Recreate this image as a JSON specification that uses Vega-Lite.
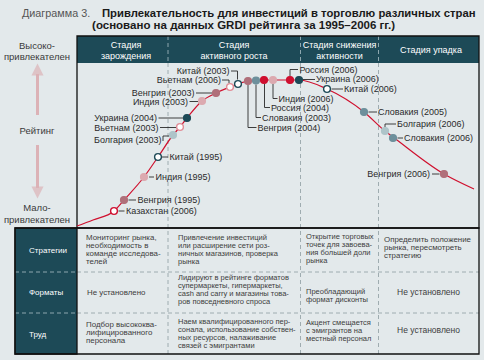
{
  "$schema": "https://vega.github.io/schema/vega-lite/v6.json",
  "width": 484,
  "height": 360,
  "autosize": {"type": "fit", "contains": "padding"},
  "padding": 0,
  "background": "#e3e9eb",
  "config": {"view": {"stroke": null}, "text": {"font": "Liberation Sans"}},
  "datasets": {
    "panels": [
      {"kind": "header", "x": 77, "x2": 479, "y": 36, "y2": 63},
      {"kind": "rowheads", "x": 15, "x2": 77, "y": 228, "y2": 354}
    ],
    "frames": [
      {"kind": "chart", "x": 77, "x2": 479, "y": 36, "y2": 228},
      {"kind": "table", "x": 15, "x2": 479, "y": 228, "y2": 354},
      {"kind": "rowheads", "x": 15, "x2": 77, "y": 228, "y2": 354}
    ],
    "rules": [
      {"kind": "stage", "x": 168, "x2": 168, "y": 63, "y2": 354},
      {"kind": "stage", "x": 300.5, "x2": 300.5, "y": 63, "y2": 354},
      {"kind": "stage", "x": 378.5, "x2": 378.5, "y": 63, "y2": 354},
      {"kind": "head", "x": 168, "x2": 168, "y": 36, "y2": 63},
      {"kind": "head", "x": 300.5, "x2": 300.5, "y": 36, "y2": 63},
      {"kind": "head", "x": 378.5, "x2": 378.5, "y": 36, "y2": 63},
      {"kind": "stage", "x": 77, "x2": 479, "y": 272, "y2": 272},
      {"kind": "stage", "x": 77, "x2": 479, "y": 313, "y2": 313},
      {"kind": "head", "x": 15, "x2": 77, "y": 272, "y2": 272},
      {"kind": "head", "x": 15, "x2": 77, "y": 313, "y2": 313}
    ],
    "arrows": [
      {"dir": "up", "x": 37.5, "y": 115, "y2": 74},
      {"dir": "down", "x": 37.5, "y": 145, "y2": 188}
    ],
    "heads": [
      {"dir": "up", "x": 37.5, "y": 69.5},
      {"dir": "down", "x": 37.5, "y": 192.5}
    ],
    "curve": [
      {"x": 77, "y": 226}, {"x": 93, "y": 220}, {"x": 114, "y": 211}, {"x": 124, "y": 200},
      {"x": 144, "y": 177}, {"x": 158, "y": 157}, {"x": 173, "y": 135}, {"x": 180, "y": 127},
      {"x": 187, "y": 118}, {"x": 202, "y": 101}, {"x": 216, "y": 93}, {"x": 230, "y": 87},
      {"x": 238, "y": 84}, {"x": 248, "y": 81}, {"x": 256, "y": 80.5}, {"x": 264, "y": 80},
      {"x": 273, "y": 80}, {"x": 290, "y": 80}, {"x": 299, "y": 80}, {"x": 327, "y": 89},
      {"x": 364, "y": 112}, {"x": 385, "y": 131}, {"x": 393, "y": 137}, {"x": 444, "y": 174},
      {"x": 474, "y": 189}
    ],
    "points": [
      {"country": "Казахстан", "year": 2006, "x": 114, "y": 211},
      {"country": "Венгрия", "year": 1995, "x": 124, "y": 200},
      {"country": "Индия", "year": 1995, "x": 144, "y": 177},
      {"country": "Китай", "year": 1995, "x": 158, "y": 157},
      {"country": "Болгария", "year": 2003, "x": 173, "y": 135},
      {"country": "Вьетнам", "year": 2003, "x": 180, "y": 127},
      {"country": "Украина", "year": 2004, "x": 187, "y": 118},
      {"country": "Индия", "year": 2003, "x": 202, "y": 101},
      {"country": "Венгрия", "year": 2003, "x": 216, "y": 93},
      {"country": "Вьетнам", "year": 2006, "x": 230, "y": 87},
      {"country": "Китай", "year": 2003, "x": 238, "y": 84},
      {"country": "Венгрия", "year": 2004, "x": 248, "y": 81},
      {"country": "Словакия", "year": 2003, "x": 256, "y": 80.5},
      {"country": "Россия", "year": 2004, "x": 264, "y": 80},
      {"country": "Индия", "year": 2006, "x": 273, "y": 80},
      {"country": "Россия", "year": 2006, "x": 290, "y": 80},
      {"country": "Украина", "year": 2006, "x": 299, "y": 80},
      {"country": "Китай", "year": 2006, "x": 327, "y": 89},
      {"country": "Словакия", "year": 2005, "x": 364, "y": 112},
      {"country": "Болгария", "year": 2006, "x": 385, "y": 131},
      {"country": "Словакия", "year": 2006, "x": 393, "y": 138},
      {"country": "Венгрия", "year": 2006, "x": 444, "y": 174}
    ],
    "leaders": [
      {"id": 1, "seq": 1, "x": 231, "y": 71}, {"id": 1, "seq": 2, "x": 237.5, "y": 71}, {"id": 1, "seq": 3, "x": 237.5, "y": 79.5},
      {"id": 2, "seq": 1, "x": 222, "y": 80}, {"id": 2, "seq": 2, "x": 229, "y": 80}, {"id": 2, "seq": 3, "x": 229, "y": 83},
      {"id": 3, "seq": 1, "x": 196, "y": 93}, {"id": 3, "seq": 2, "x": 212, "y": 93},
      {"id": 4, "seq": 1, "x": 189.5, "y": 101.5}, {"id": 4, "seq": 2, "x": 198, "y": 101.5},
      {"id": 5, "seq": 1, "x": 158.5, "y": 118}, {"id": 5, "seq": 2, "x": 183, "y": 118},
      {"id": 6, "seq": 1, "x": 160, "y": 127.5}, {"id": 6, "seq": 2, "x": 176, "y": 127.5},
      {"id": 7, "seq": 1, "x": 163, "y": 141}, {"id": 7, "seq": 2, "x": 163, "y": 136}, {"id": 7, "seq": 3, "x": 169, "y": 136},
      {"id": 8, "seq": 1, "x": 162, "y": 157}, {"id": 8, "seq": 2, "x": 168, "y": 157},
      {"id": 9, "seq": 1, "x": 149, "y": 177}, {"id": 9, "seq": 2, "x": 154, "y": 177},
      {"id": 10, "seq": 1, "x": 128.5, "y": 200}, {"id": 10, "seq": 2, "x": 136, "y": 200},
      {"id": 11, "seq": 1, "x": 118.5, "y": 211}, {"id": 11, "seq": 2, "x": 124.5, "y": 211},
      {"id": 12, "seq": 1, "x": 290, "y": 76}, {"id": 12, "seq": 2, "x": 290, "y": 69.5}, {"id": 12, "seq": 3, "x": 298, "y": 69.5},
      {"id": 13, "seq": 1, "x": 303, "y": 79.5}, {"id": 13, "seq": 2, "x": 315, "y": 79.5},
      {"id": 14, "seq": 1, "x": 331.5, "y": 89}, {"id": 14, "seq": 2, "x": 343, "y": 89},
      {"id": 15, "seq": 1, "x": 273, "y": 84}, {"id": 15, "seq": 2, "x": 273, "y": 98.5}, {"id": 15, "seq": 3, "x": 277.5, "y": 98.5},
      {"id": 16, "seq": 1, "x": 264.5, "y": 84}, {"id": 16, "seq": 2, "x": 264.5, "y": 107.5}, {"id": 16, "seq": 3, "x": 270, "y": 107.5},
      {"id": 17, "seq": 1, "x": 256, "y": 84.5}, {"id": 17, "seq": 2, "x": 256, "y": 117.5}, {"id": 17, "seq": 3, "x": 261, "y": 117.5},
      {"id": 18, "seq": 1, "x": 248, "y": 85}, {"id": 18, "seq": 2, "x": 248, "y": 127.5}, {"id": 18, "seq": 3, "x": 256.5, "y": 127.5},
      {"id": 19, "seq": 1, "x": 368.5, "y": 112}, {"id": 19, "seq": 2, "x": 377, "y": 112},
      {"id": 20, "seq": 1, "x": 385, "y": 127}, {"id": 20, "seq": 2, "x": 385, "y": 124}, {"id": 20, "seq": 3, "x": 396, "y": 124},
      {"id": 21, "seq": 1, "x": 397.5, "y": 138}, {"id": 21, "seq": 2, "x": 403, "y": 138},
      {"id": 22, "seq": 1, "x": 432, "y": 174}, {"id": 22, "seq": 2, "x": 439.5, "y": 174}
    ],
    "labels": [
      {"side": "end", "label": "Китай (2003)", "x": 229.5, "y": 71},
      {"side": "end", "label": "Вьетнам (2006)", "x": 221, "y": 80},
      {"side": "end", "label": "Венгрия (2003)", "x": 194.5, "y": 92.5},
      {"side": "end", "label": "Индия (2003)", "x": 188, "y": 102},
      {"side": "end", "label": "Украина (2004)", "x": 157, "y": 118},
      {"side": "end", "label": "Вьетнам (2003)", "x": 158.5, "y": 127.5},
      {"side": "end", "label": "Болгария (2003)", "x": 161.5, "y": 139.5},
      {"side": "start", "label": "Китай (1995)", "x": 169.5, "y": 157},
      {"side": "start", "label": "Индия (1995)", "x": 155.5, "y": 177},
      {"side": "start", "label": "Венгрия (1995)", "x": 137.5, "y": 200},
      {"side": "start", "label": "Казахстан (2006)", "x": 126, "y": 211},
      {"side": "start", "label": "Россия (2006)", "x": 299.5, "y": 69.5},
      {"side": "start", "label": "Украина (2006)", "x": 316, "y": 79},
      {"side": "start", "label": "Китай (2006)", "x": 344, "y": 89},
      {"side": "start", "label": "Индия (2006)", "x": 278.5, "y": 98.5},
      {"side": "start", "label": "Россия (2004)", "x": 271, "y": 107.5},
      {"side": "start", "label": "Словакия (2003)", "x": 262, "y": 118},
      {"side": "start", "label": "Венгрия (2004)", "x": 257.5, "y": 127.5},
      {"side": "start", "label": "Словакия (2005)", "x": 378, "y": 112},
      {"side": "start", "label": "Болгария (2006)", "x": 397, "y": 124},
      {"side": "start", "label": "Словакия (2006)", "x": 404, "y": 138},
      {"side": "end", "label": "Венгрия (2006)", "x": 430, "y": 174}
    ],
    "stages": [
      {"label": "Стадия\nзарождения", "x": 126, "y": 45},
      {"label": "Стадия\nактивного роста", "x": 234, "y": 45},
      {"label": "Стадия снижения\nактивности", "x": 339.5, "y": 45},
      {"label": "Стадия упадка", "x": 431, "y": 49.5}
    ],
    "axisText": [
      {"label": "Высоко-\nпривлекателен", "x": 37, "y": 45.5},
      {"label": "Рейтинг", "x": 37, "y": 131},
      {"label": "Мало-\nпривлекателен", "x": 37, "y": 208}
    ],
    "titles": [
      {"kind": "lead", "label": "Диаграмма 3.", "x": 22, "y": 14},
      {"kind": "main", "label": "Привлекательность для инвестиций в торговлю различных стран", "x": 102, "y": 14}
    ],
    "subtitle": [
      {"label": "(основано на данных GRDI рейтинга за 1995–2006 гг.)", "x": 243.5, "y": 25.5}
    ],
    "rowheads": [
      {"label": "Стратегии", "x": 29, "y": 251},
      {"label": "Форматы", "x": 29, "y": 293},
      {"label": "Труд", "x": 29, "y": 335}
    ],
    "cells": [
      {"size": "large", "label": "Мониторинг рынка,\nнеобходимость в\nкоманде исследова-\nтелей", "x": 86, "y": 237.7},
      {"size": "large", "label": "Не установлено", "x": 87, "y": 293.3},
      {"size": "large", "label": "Подбор высококва-\nлифицированного\nперсонала", "x": 86, "y": 325},
      {"size": "small", "label": "Привлечение инвестиций\nили расширение сети роз-\nничных магазинов, проверка\nрынка", "x": 178, "y": 237.7},
      {"size": "small", "label": "Лидируют в рейтинге форматов\nсупермаркеты, гипермаркеты,\ncash and carry и магазины това-\nров повседневного спроса", "x": 178, "y": 278.3},
      {"size": "small", "label": "Наем квалифицированного пер-\nсонала, использование собствен-\nных ресурсов, налаживание\nсвязей с эмигрантами", "x": 178, "y": 321.7},
      {"size": "small", "label": "Открытие торговых\nточек для завоева-\nния большей доли\nрынка", "x": 306, "y": 236.7},
      {"size": "small", "label": "Преобладающий\nформат дисконты", "x": 306, "y": 291.7},
      {"size": "small", "label": "Акцент смещается\nс эмигрантов на\nместный персонал", "x": 306, "y": 322.7},
      {"size": "large", "label": "Определить положение\nрынка, пересмотреть\nстратегию", "x": 384, "y": 240},
      {"size": "center", "label": "Не установлено", "x": 428.5, "y": 291.7},
      {"size": "center", "label": "Не установлено", "x": 428.5, "y": 330}
    ]
  },
  "encoding": {
    "x": {"field": "x", "type": "quantitative", "scale": {"domain": [0, 484], "nice": false, "zero": false}, "axis": null},
    "y": {"field": "y", "type": "quantitative", "scale": {"domain": [0, 360], "nice": false, "zero": false, "reverse": true}, "axis": null}
  },
  "layer": [
    {
      "data": {"name": "panels"},
      "mark": {"type": "rect", "fill": "#1d4a57"},
      "encoding": {"x2": {"field": "x2"}, "y2": {"field": "y2"}}
    },
    {
      "data": {"name": "rules"},
      "transform": [{"filter": "datum.kind == 'stage'"}],
      "mark": {"type": "rule", "stroke": "#8e9ca1", "strokeWidth": 0.8, "strokeDash": [4, 3]},
      "encoding": {"x2": {"field": "x2"}, "y2": {"field": "y2"}}
    },
    {
      "data": {"name": "rules"},
      "transform": [{"filter": "datum.kind == 'head'"}],
      "mark": {"type": "rule", "stroke": "#a9bfc5", "strokeWidth": 0.8, "strokeDash": [4, 3]},
      "encoding": {"x2": {"field": "x2"}, "y2": {"field": "y2"}}
    },
    {
      "data": {"name": "frames"},
      "mark": {"type": "rect", "fill": null, "fillOpacity": 0, "stroke": "#111111", "strokeWidth": 1.3},
      "encoding": {"x2": {"field": "x2"}, "y2": {"field": "y2"}}
    },
    {
      "data": {"name": "arrows"},
      "mark": {"type": "rule", "stroke": "#dcb2b6", "strokeWidth": 3},
      "encoding": {"y2": {"field": "y2"}}
    },
    {
      "data": {"name": "heads"},
      "mark": {"type": "point", "filled": true, "fill": "#dcb2b6", "strokeWidth": 0, "size": 144},
      "encoding": {
        "shape": {"field": "dir", "type": "nominal", "scale": {"domain": ["up", "down"], "range": ["M0,-1L1,1L-1,1Z", "M0,1L1,-1L-1,-1Z"]}, "legend": null}
      }
    },
    {
      "data": {"name": "curve"},
      "mark": {"type": "line", "stroke": "#d0102e", "strokeWidth": 1.2, "interpolate": "monotone"},
      "encoding": {"order": {"field": "x", "type": "quantitative"}}
    },
    {
      "data": {"name": "leaders"},
      "mark": {"type": "line", "stroke": "#2a2a2a", "strokeWidth": 0.9},
      "encoding": {"detail": {"field": "id", "type": "nominal"}, "order": {"field": "seq", "type": "quantitative"}}
    },
    {
      "data": {"name": "points"},
      "mark": {"type": "circle", "size": 46, "strokeWidth": 1.4, "opacity": 1},
      "encoding": {
        "fill": {"field": "country", "type": "nominal", "legend": null, "scale": {
          "domain": ["Казахстан", "Венгрия", "Индия", "Китай", "Болгария", "Вьетнам", "Украина", "Словакия", "Россия"],
          "range": ["#ffffff", "#b0707a", "#dcaab0", "#ffffff", "#aec4c9", "#ffffff", "#1d4a57", "#6e909c", "#cf1030"]}},
        "stroke": {"field": "country", "type": "nominal", "legend": null, "scale": {
          "domain": ["Казахстан", "Венгрия", "Индия", "Китай", "Болгария", "Вьетнам", "Украина", "Словакия", "Россия"],
          "range": ["#cf1030", "#b0707a", "#dcaab0", "#1d4a57", "#aec4c9", "#e08d97", "#1d4a57", "#6e909c", "#cf1030"]}}
      }
    },
    {
      "data": {"name": "labels"},
      "transform": [{"filter": "datum.side == 'start'"}],
      "mark": {"type": "text", "align": "left", "baseline": "middle", "fontSize": 9, "fill": "#2b2b2b"},
      "encoding": {"text": {"field": "label"}}
    },
    {
      "data": {"name": "labels"},
      "transform": [{"filter": "datum.side == 'end'"}],
      "mark": {"type": "text", "align": "right", "baseline": "middle", "fontSize": 9, "fill": "#2b2b2b"},
      "encoding": {"text": {"field": "label"}}
    },
    {
      "data": {"name": "stages"},
      "mark": {"type": "text", "align": "center", "baseline": "middle", "fontSize": 9, "fill": "#ffffff", "lineBreak": "\n", "lineHeight": 10.5},
      "encoding": {"text": {"field": "label"}}
    },
    {
      "data": {"name": "axisText"},
      "mark": {"type": "text", "align": "center", "baseline": "middle", "fontSize": 9.5, "fill": "#3a3a3a", "lineBreak": "\n", "lineHeight": 11.5},
      "encoding": {"text": {"field": "label"}}
    },
    {
      "data": {"name": "titles"},
      "transform": [{"filter": "datum.kind == 'lead'"}],
      "mark": {"type": "text", "align": "left", "baseline": "middle", "fontSize": 10.8, "fill": "#555555"},
      "encoding": {"text": {"field": "label"}}
    },
    {
      "data": {"name": "titles"},
      "transform": [{"filter": "datum.kind == 'main'"}],
      "mark": {"type": "text", "align": "left", "baseline": "middle", "fontSize": 11.3, "fontWeight": "bold", "fill": "#1a1a1a"},
      "encoding": {"text": {"field": "label"}}
    },
    {
      "data": {"name": "subtitle"},
      "mark": {"type": "text", "align": "center", "baseline": "middle", "fontSize": 11.5, "fontWeight": "bold", "fill": "#1a1a1a"},
      "encoding": {"text": {"field": "label"}}
    },
    {
      "data": {"name": "rowheads"},
      "mark": {"type": "text", "align": "left", "baseline": "middle", "fontSize": 8, "fill": "#ffffff"},
      "encoding": {"text": {"field": "label"}}
    },
    {
      "data": {"name": "cells"},
      "transform": [{"filter": "datum.size == 'large'"}],
      "mark": {"type": "text", "align": "left", "baseline": "middle", "fontSize": 7.9, "fill": "#3d3d3d", "lineBreak": "\n", "lineHeight": 8},
      "encoding": {"text": {"field": "label"}}
    },
    {
      "data": {"name": "cells"},
      "transform": [{"filter": "datum.size == 'small'"}],
      "mark": {"type": "text", "align": "left", "baseline": "middle", "fontSize": 7.5, "fill": "#3d3d3d", "lineBreak": "\n", "lineHeight": 8},
      "encoding": {"text": {"field": "label"}}
    },
    {
      "data": {"name": "cells"},
      "transform": [{"filter": "datum.size == 'center'"}],
      "mark": {"type": "text", "align": "center", "baseline": "middle", "fontSize": 8.5, "fill": "#3d3d3d"},
      "encoding": {"text": {"field": "label"}}
    }
  ]
}
